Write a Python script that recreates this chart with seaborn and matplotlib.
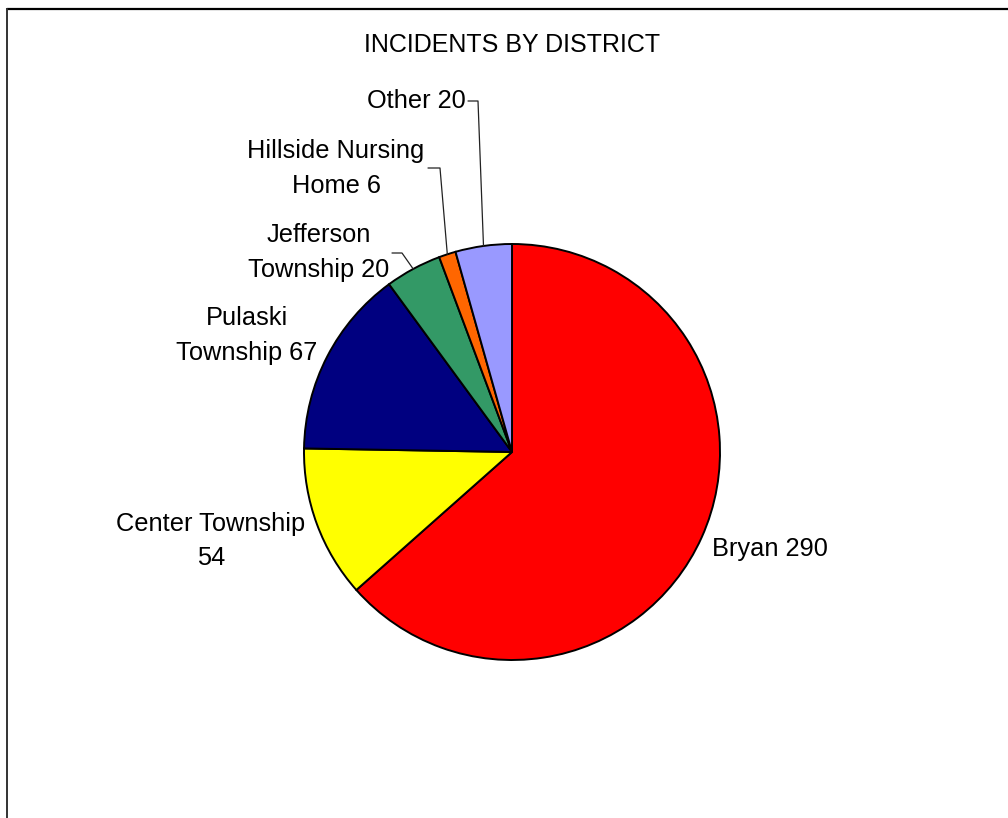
import matplotlib
matplotlib.use("Agg")
import matplotlib.pyplot as plt
import numpy as np
import seaborn as sns

# data
districts = ["Bryan", "Center Township", "Pulaski Township",
             "Jefferson Township", "Hillside Nursing Home", "Other"]
incidents = [290, 54, 67, 20, 6, 20]
colors = ["#FF0000", "#FFFF00", "#000080", "#339966", "#FF6600", "#9999FF"]
title = "INCIDENTS BY DISTRICT"

sns.set_style("white")
plt.rcParams["font.family"] = ["Liberation Sans", "DejaVu Sans"]
plt.rcParams["text.color"] = "black"

W, H = 1008, 818
fig = plt.figure(figsize=(W / 100, H / 100), dpi=100)
ax = fig.add_axes([0, 0, 1, 1])


def Y(y):
    # image pixel row -> data y
    return H - y


cx, cy, r = 512, 452, 208
wedges, _ = ax.pie(
    incidents,
    colors=colors,
    startangle=90,
    counterclock=False,
    center=(cx, Y(cy)),
    radius=r,
    wedgeprops={"edgecolor": "black", "linewidth": 1.4},
    frame=True,
)
ax.set_xlim(0, W)
ax.set_ylim(0, H)
ax.set_aspect("equal")
ax.axis("off")

# frame lines (top and left)
ax.plot([6.5, W], [Y(8.5), Y(8.5)], color="black", lw=1.6, clip_on=False)
ax.plot([6.5, 6.5], [Y(8.5), 0], color="#333333", lw=1.4, clip_on=False)

ax.text(512, Y(52), title, ha="center", va="baseline", fontsize=18)

# multi-line labels: y is the baseline of the last line
fs = 18.3
ax.text(712, Y(556), f"Bryan {incidents[0]}", ha="left", va="baseline", fontsize=fs)
ax.text(211, Y(565), f"Center Township\n{incidents[1]}", ha="center", va="baseline",
        fontsize=fs, multialignment="center", linespacing=1.5)
ax.text(247, Y(360), f"Pulaski\nTownship {incidents[2]}", ha="center", va="baseline",
        fontsize=fs, multialignment="center", linespacing=1.56)
ax.text(318.5, Y(277), f"Jefferson\nTownship {incidents[3]}", ha="center", va="baseline",
        fontsize=fs, multialignment="center", linespacing=1.58)
ax.text(336, Y(193), f"Hillside Nursing\nHome {incidents[4]}", ha="center", va="baseline",
        fontsize=fs, multialignment="center", linespacing=1.56)
ax.text(466, Y(108), f"Other {incidents[5]}", ha="right", va="baseline", fontsize=fs)

# leader lines from label to wedge middle on the rim
leaders = {3: (392, 253, 402), 4: (428, 168, 440), 5: (468, 101, 478)}
for i, (x0, y0, x1) in leaders.items():
    w = wedges[i]
    mid = np.deg2rad((w.theta1 + w.theta2) / 2)
    ex = cx + r * np.cos(mid)
    ey = Y(cy) + r * np.sin(mid)
    ax.plot([x0, x1, ex], [Y(y0), Y(y0), ey], color="#222222", lw=0.9)

fig.savefig("out.png", dpi=100)
